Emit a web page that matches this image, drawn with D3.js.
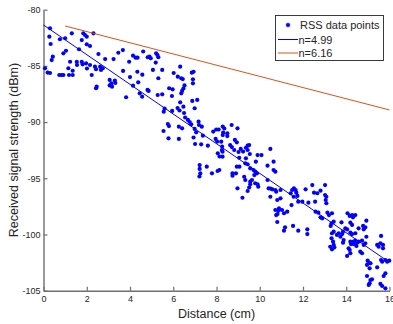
<!DOCTYPE html>
<html>
<head>
<meta charset="utf-8">
<script src="https://cdn.jsdelivr.net/npm/d3@7/dist/d3.min.js"></script>
<style>
  html, body { margin: 0; padding: 0; background: #fff; }
  svg { display: block; }
  text { font-family: "Liberation Sans", Arial, Helvetica, sans-serif; fill: #262626; }
</style>
</head>
<body>
<svg id="chart" width="393" height="324"></svg>
<script>
// ---- Data ----
// RSS measurements: [distance (cm), received signal strength (dBm)]
const rssPoints = [
  [0.07,-85.21],[0.27,-82.40],[0.30,-81.65],[0.33,-83.05],[0.19,-85.59],[0.30,-85.63],[0.38,-84.48],[0.43,-84.18],
  [0.73,-85.81],[0.84,-85.81],[0.92,-85.81],[0.76,-82.63],[1.00,-82.54],[0.92,-83.88],[1.04,-83.65],[1.15,-85.21],
  [1.18,-85.81],[1.31,-82.10],[1.23,-84.63],[1.35,-85.43],[1.35,-85.81],[1.54,-84.65],[1.55,-84.92],[1.77,-84.65],
  [1.81,-84.86],[1.77,-82.70],[1.84,-82.10],[1.92,-82.25],[2.00,-82.40],[1.64,-83.52],[2.00,-83.08],[2.15,-83.23],
  [1.97,-84.77],[2.15,-84.92],[2.01,-85.23],[2.23,-85.81],[2.31,-82.10],[2.43,-85.30],[2.38,-85.07],[2.46,-86.85],
  [2.43,-86.99],[2.62,-85.07],[2.66,-85.36],[2.74,-85.21],[2.54,-83.94],
  [2.85,-84.39],[3.06,-86.25],[3.14,-86.55],[3.06,-86.74],[3.17,-86.85],[3.30,-86.30],[3.32,-86.52],[3.24,-84.39],
  [3.46,-83.83],[3.67,-83.59],[3.82,-87.79],[3.96,-84.63],[4.00,-85.99],[4.14,-86.76],[4.38,-86.46],[4.14,-84.09],
  [4.26,-84.27],[4.35,-84.27],[4.61,-83.72],[4.82,-84.23],[4.90,-84.18],[4.96,-84.32],[4.81,-87.14],[4.86,-87.23],
  [4.57,-85.78],[4.34,-85.52],[5.06,-85.36],[5.19,-84.70],[5.21,-83.88],[5.27,-84.03],[5.31,-84.23],[5.31,-86.10],
  [5.49,-85.36],[5.49,-87.53],[5.28,-87.59],[4.45,-87.44],[4.56,-87.74],[3.68,-85.45],
  [5.60,-88.79],[5.56,-89.07],[5.75,-90.17],[5.80,-90.35],[5.78,-91.44],[5.55,-90.79],[5.94,-87.68],[5.81,-86.99],
  [5.97,-87.08],[6.02,-85.63],[5.95,-89.01],[6.20,-88.75],[6.29,-88.97],[6.26,-90.41],[6.41,-90.55],[6.26,-91.50],
  [6.32,-85.07],[6.21,-85.96],[6.37,-86.10],[6.44,-86.17],[6.52,-86.74],[6.47,-87.01],[6.41,-87.23],[6.37,-87.44],
  [6.50,-89.19],[6.55,-89.59],[6.68,-89.81],[6.76,-89.99],[6.83,-90.20],[6.32,-88.24],[6.47,-88.63],[6.86,-85.60],
  [6.94,-85.52],[6.91,-86.19],[6.91,-86.55],[6.88,-88.12],[7.11,-88.03],[6.99,-88.77],[6.94,-91.37],[7.01,-91.95],
  [7.29,-91.98],[7.17,-89.96],[7.19,-90.26],[6.99,-90.61],[7.06,-90.91],[7.32,-90.41],[7.37,-91.21],[7.60,-92.10],
  [7.85,-90.84],[7.99,-90.66],[8.10,-90.66],[7.22,-93.82],[7.22,-94.17],[7.25,-94.57],[7.21,-94.84],[7.55,-93.97],
  [8.29,-90.39],[8.36,-90.57],[8.31,-90.93],[8.29,-91.15],[8.50,-91.00],[8.50,-91.24],[8.70,-90.26],[8.97,-90.55],
  [7.96,-91.50],[8.03,-91.73],[8.22,-91.74],[8.26,-92.17],[8.25,-92.48],[8.06,-92.78],[8.14,-93.06],[8.28,-92.63],
  [8.28,-93.08],[8.63,-92.04],[8.71,-92.22],[8.85,-91.59],[8.94,-91.80],[8.82,-92.48],[9.12,-92.39],[9.23,-92.62],
  [9.02,-92.66],[9.36,-92.28],[9.44,-92.10],[9.51,-92.04],[9.44,-92.48],[9.54,-92.84],[9.05,-93.17],[9.36,-93.22],
  [9.90,-92.93],[10.08,-92.93],[10.49,-92.39],[9.82,-93.52],[9.44,-93.75],[8.05,-94.35],[8.13,-94.26],[7.79,-94.56],
  [8.74,-94.56],[8.74,-94.77],[8.90,-94.56],[8.94,-93.97],[9.06,-93.97],[9.33,-93.67],[9.56,-94.11],[9.71,-94.26],
  [9.79,-94.41],[9.87,-94.56],[9.75,-94.71],[9.28,-94.86],[9.33,-95.15],[9.56,-95.30],[9.64,-95.15],[9.56,-95.53],
  [9.90,-95.53],[9.93,-95.75],[9.79,-95.44],[10.36,-93.88],[10.64,-93.52],[10.64,-94.26],[10.72,-94.41],[10.36,-95.15],
  [8.97,-95.89],[9.44,-96.13],[9.51,-95.82],[10.41,-95.89],[10.50,-95.91],[10.58,-95.98],[9.20,-96.73],[10.49,-96.64],
  [10.72,-96.04],[10.76,-96.19],
  [10.96,-96.04],[10.81,-96.93],[10.96,-96.78],[11.50,-96.04],[11.58,-95.89],[11.66,-96.04],[11.69,-96.28],[11.43,-96.33],
  [11.74,-96.57],[11.57,-96.64],[11.78,-97.08],[12.12,-95.98],[12.43,-95.60],[12.51,-96.28],[12.66,-96.33],[12.81,-96.10],
  [13.02,-95.60],[13.02,-96.49],[13.08,-96.64],[13.05,-96.93],[13.08,-97.22],[11.97,-97.08],[12.25,-97.17],[12.56,-97.08],
  [11.47,-97.38],[10.89,-97.67],[10.86,-97.88],[10.72,-97.82],[10.82,-98.18],[11.03,-97.82],[11.12,-98.11],[11.27,-97.97],
  [10.76,-98.27],[12.58,-97.97],[12.71,-98.06],[12.81,-98.47],[12.89,-98.56],[13.13,-98.06],[13.20,-98.27],[13.34,-98.11],
  [10.81,-98.89],[11.17,-99.36],[11.12,-99.66],[11.54,-99.24],[11.78,-99.66],[12.20,-99.54],[12.20,-99.96],[13.32,-99.00],
  [13.28,-99.24],[13.42,-98.86],[13.34,-99.89],[13.42,-99.75],[13.32,-100.34],[13.39,-100.64],
  [13.42,-100.93],[13.45,-101.14],[13.26,-101.09],[13.34,-101.32],[13.57,-100.04],[13.65,-99.89],[13.73,-100.20],[13.78,-98.92],
  [13.85,-99.75],[13.81,-99.96],[13.88,-100.49],[13.85,-100.73],[13.96,-99.45],[14.04,-99.54],[14.06,-98.11],[14.16,-98.35],
  [14.27,-98.27],[14.31,-98.47],[14.42,-98.27],[14.19,-98.95],[14.27,-99.15],[14.19,-99.84],[14.27,-99.96],[14.19,-100.64],
  [14.22,-100.85],[14.34,-100.64],[14.42,-100.55],[14.11,-101.23],[14.16,-101.38],[14.19,-101.67],[14.04,-101.91],[14.42,-99.89],
  [14.34,-100.85],[14.50,-100.73],[14.47,-101.02],[14.65,-101.53],[14.73,-101.67],[14.73,-100.55],[14.57,-100.64],[14.81,-99.54],
  [14.88,-99.36],[14.78,-99.24],[14.57,-99.45],[14.93,-98.77],[14.93,-100.20],[14.88,-100.78],[14.81,-100.93],[14.99,-102.33],
  [15.04,-102.51],[14.96,-102.71],[15.12,-102.56],[15.08,-103.01],[14.96,-103.69],[15.12,-104.05],[15.19,-103.99],[15.08,-104.34],
  [15.04,-104.49],[15.43,-100.93],[15.50,-101.09],[15.58,-100.78],[15.61,-100.13],[15.70,-100.93],[15.70,-101.23],[15.43,-102.92],
  [15.81,-102.27],[15.89,-102.42],[15.99,-102.33],[15.61,-102.27],[15.66,-102.42],[15.81,-103.45],[15.73,-103.69],[15.58,-104.40],
  [15.66,-104.58],[15.81,-104.79]
];
// Fitted path-loss lines (endpoints)
const fitBlueX = [0, 15.8];
const fitBlueY = [-81.36, -102.22];
const fitOrangeX = [1, 16];
const fitOrangeY = [-81.45, -88.92];
const xTicks = [0, 2, 4, 6, 8, 10, 12, 14, 16];
const yTicks = [-105, -100, -95, -90, -85, -80];
const legendLabels = ["RSS data points", "n=4.99", "n=6.16"];

// ---- Layout ----
const svg = d3.select("#chart");
const x = d3.scaleLinear().domain([0, 16]).range([43.5, 389.5]);
const y = d3.scaleLinear().domain([-105, -80]).range([290.7, 9.7]);
const blue = "#0000ff", orange = "#d95319", axisCol = "#6f6f6f";

// axes
const gx = svg.append("g").attr("transform", `translate(0,${y(-105)})`)
  .call(d3.axisBottom(x).tickValues(xTicks).tickFormat(d3.format("d"))
    .tickSizeInner(-4).tickSizeOuter(0).tickPadding(5.4));
const gy = svg.append("g").attr("transform", `translate(${x(0)},0)`)
  .call(d3.axisLeft(y).tickValues(yTicks).tickFormat(d => d)
    .tickSizeInner(-4).tickSizeOuter(0).tickPadding(3));
[gx, gy].forEach(g => {
  g.select(".domain").attr("stroke", axisCol).attr("stroke-width", 1.4);
  g.selectAll(".tick line").attr("stroke", axisCol).attr("stroke-width", 1.2);
  g.selectAll(".tick text").attr("font-size", 9).attr("fill", "#262626")
    .attr("font-family", '"Liberation Sans", Arial, sans-serif');
});
gy.selectAll(".tick text").attr("text-anchor", "end");

// points
svg.append("g").selectAll("circle").data(rssPoints).join("circle")
  .attr("cx", d => x(d[0])).attr("cy", d => y(d[1])).attr("r", 2.1)
  .attr("fill", blue);

// lines
const line = d3.line().x(d => x(d[0])).y(d => y(d[1]));
svg.append("path").datum(fitBlueX.map((v, i) => [v, fitBlueY[i]]))
  .attr("d", line).attr("fill", "none").attr("stroke", blue).attr("stroke-width", 1);
svg.append("path").datum(fitOrangeX.map((v, i) => [v, fitOrangeY[i]]))
  .attr("d", line).attr("fill", "none").attr("stroke", orange).attr("stroke-width", 1);

// axis labels
svg.append("text").attr("x", 216.5).attr("y", 318).attr("text-anchor", "middle")
  .attr("font-size", 12.5).text("Distance (cm)");
svg.append("text").attr("transform", "translate(17.5,150) rotate(-90)")
  .attr("text-anchor", "middle").attr("font-size", 12.5).text("Received signal strength (dBm)");

// legend
const lg = svg.append("g");
lg.append("rect").attr("x", 275.5).attr("y", 15.5).attr("width", 108).attr("height", 45)
  .attr("fill", "#fff").attr("stroke", "#262626").attr("stroke-width", 0.9);
// asterisk marker
const ast = lg.append("g").attr("transform", "translate(288,25)");
[0, 45, 90, 135].forEach(a => {
  ast.append("line").attr("x1", -2.2).attr("x2", 2.2).attr("y1", 0).attr("y2", 0)
    .attr("transform", `rotate(${a})`).attr("stroke", blue).attr("stroke-width", 1.3);
});
lg.append("line").attr("x1", 278).attr("x2", 298).attr("y1", 39.5).attr("y2", 39.5)
  .attr("stroke", blue).attr("stroke-width", 1);
lg.append("line").attr("x1", 278).attr("x2", 298).attr("y1", 53).attr("y2", 53)
  .attr("stroke", orange).attr("stroke-width", 1);
const legY = [29, 43.5, 57];
const legX = [300, 298.5, 298.5];
legendLabels.forEach((t, i) => {
  lg.append("text").attr("x", legX[i]).attr("y", legY[i]).attr("font-size", 11).text(t);
});
</script>
</body>
</html>
